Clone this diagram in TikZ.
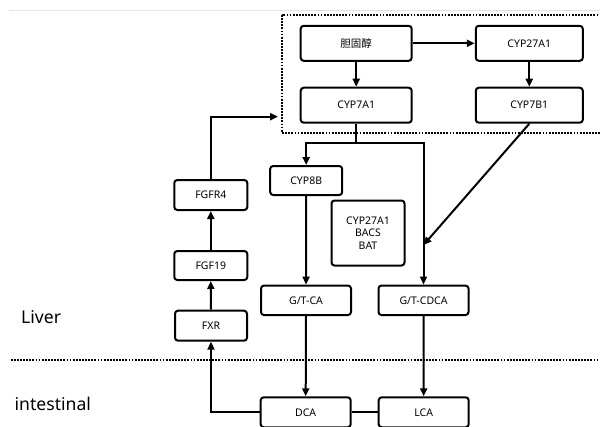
\documentclass[tikz,border=0pt]{standalone}
\usepackage{fontspec}
\setmainfont{Noto Sans}
\newfontfamily\cjk{Noto Sans CJK SC}
\usetikzlibrary{arrows.meta}
\tikzset{
  box/.style={draw=black, line width=2pt, rounded corners=3pt, inner sep=0pt,
    font=\fontsize{10.5}{12.7}\selectfont, align=center, fill=white},
  arr/.style={line width=2pt, -{Triangle[length=8pt,width=7pt]}},
  plain/.style={line width=2pt},
  dotline/.style={line width=2pt, dash pattern=on 1.8pt off 1.3pt},
  lbl/.style={font=\fontsize{17.6}{20}\selectfont, inner sep=0pt, anchor=base west}
}
\begin{document}
\begin{tikzpicture}[x=1pt,y=-1pt]
\useasboundingbox (0,0) rectangle (600,426);
% faint top rule
\draw[gray!22, line width=0.8pt] (9,10.7) -- (600,10.7);
% dotted region (liver cells)
\draw[dotline] (282,15) rectangle (603,132.7);
% separator
\draw[dotline] (10.7,359.5) -- (600,359.5);
% labels
\node[lbl] (liver) at (21,323.3) {Liver};
\node[lbl] (intest) at (14.5,410.7) {intestinal};
% nodes
\node[box, minimum width=111pt, minimum height=35pt] (chol) at (356.2,43.3) {\cjk 胆固醇};
\node[box, minimum width=107pt, minimum height=35pt] (cyp27) at (529.3,43.3) {CYP27A1};
\node[box, minimum width=111pt, minimum height=35pt] (cyp7a1) at (356.2,105.2) {CYP7A1};
\node[box, minimum width=107pt, minimum height=35pt] (cyp7b1) at (529.3,105.2) {CYP7B1};
\node[box, minimum width=72pt, minimum height=29pt] (cyp8b) at (306.2,180.5) {CYP8B};
\node[box, minimum width=73pt, minimum height=30pt] (fgfr4) at (210.8,195) {FGFR4};
\node[box, minimum width=73pt, minimum height=29pt] (fgf19) at (210.8,265.5) {FGF19};
\node[box, minimum width=72pt, minimum height=30pt] (fxr) at (211,325.7) {FXR};
\node[box, minimum width=73pt, minimum height=65pt] (misc) at (368,233) {CYP27A1\\BACS\\BAT};
\node[box, minimum width=90pt, minimum height=29.5pt] (gtca) at (306,300.3) {G/T-CA};
\node[box, minimum width=90pt, minimum height=29.5pt] (gtcdca) at (423.5,300.3) {G/T-CDCA};
\node[box, minimum width=90pt, minimum height=30pt] (dca) at (305.7,412.3) {DCA};
\node[box, minimum width=90pt, minimum height=30pt] (lca) at (423.7,412.3) {LCA};
% helper coordinates
\coordinate (split) at (356.2,143.3);
\coordinate (meet) at (423.5,245);
\coordinate (boxin) at (278,116.7);
% connectors
\draw[arr] (chol.east) -- (cyp27.west);
\draw[arr] (chol.south) -- (cyp7a1.north);
\draw[arr] (cyp27.south) -- (cyp7b1.north);
\draw[plain] (cyp7a1.south) -- (split);
\draw[arr] (split) -| (cyp8b.north);
\draw[arr] (split) -| (gtcdca.north);
\draw[arr] (cyp7b1.south) -- (meet);
\draw[arr] (cyp8b.south) -- (gtca.north);
\draw[arr] (gtca.south) -- (dca.north);
\draw[arr] (gtcdca.south) -- (lca.north);
\draw[plain] (dca.east) -- (lca.west);
\draw[arr] (dca.west) -| (fxr.south);
\draw[arr] (fxr.north) -- (fgf19.south);
\draw[arr] (fgf19.north) -- (fgfr4.south);
\draw[arr] (fgfr4.north) |- (boxin);
\end{tikzpicture}
\end{document}
